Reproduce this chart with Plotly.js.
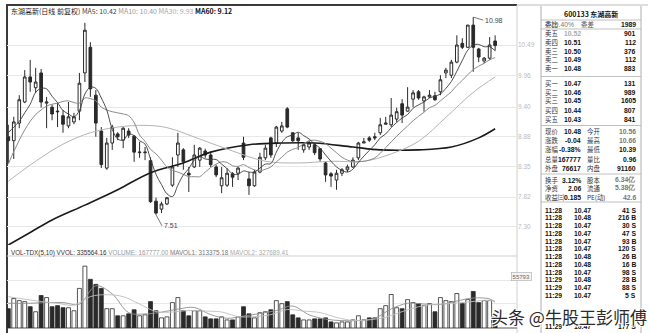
<!DOCTYPE html>
<html><head><meta charset="utf-8">
<script src="https://cdn.plot.ly/plotly-3.0.1.min.js"></script>
<style>html,body{margin:0;padding:0;background:#fff}#chart{width:650px;height:333px}</style>
</head><body><div id="chart"></div>
<script>
// ---------------- data ----------------
const open = [8.88,8.81,9.12,9.49,9.93,9.74,10.00,9.47,9.40,9.33,
9.25,9.07,9.14,9.33,10.00,10.45,9.61,8.98,8.33,8.77,
8.93,8.82,8.98,8.89,8.60,8.60,8.46,7.75,7.61,7.70,
8.03,8.56,8.65,8.24,8.35,8.47,8.63,8.56,8.35,8.02,
8.03,8.23,8.24,8.77,8.14,8.02,8.26,8.51,8.86,8.77,
8.98,9.37,8.95,8.86,8.65,8.70,8.74,8.67,8.42,8.23,
8.12,8.24,8.30,8.35,8.51,8.77,8.86,8.88,8.95,9.10,
9.09,9.19,9.46,9.33,9.54,9.67,9.51,9.58,9.60,9.67,
10.00,9.96,10.19,10.52,10.45,10.84,10.42,10.21,10.26,10.56];
const high = [9.09,9.23,9.61,10.05,10.23,10.09,10.07,9.58,9.44,9.47,
9.35,9.49,9.30,10.00,10.88,10.54,9.70,9.05,8.86,9.09,
8.96,9.05,9.03,8.91,8.79,8.70,8.52,7.81,7.74,7.82,
8.52,8.95,8.68,8.35,8.74,8.70,8.67,8.60,8.39,8.35,
8.33,8.26,8.35,8.88,8.26,8.30,8.60,8.74,8.88,9.07,
9.14,9.40,8.96,8.95,8.77,8.82,8.77,8.68,8.44,8.26,
8.30,8.33,8.39,8.52,8.79,8.86,8.89,8.95,9.21,9.23,
9.56,9.39,9.54,9.75,9.70,9.70,9.60,9.70,9.67,9.96,
10.09,10.23,10.66,10.61,10.84,10.98,10.44,10.28,10.63,10.66];
const low = [8.42,8.49,9.03,9.47,9.67,9.65,9.39,9.03,9.17,9.05,
8.95,9.03,9.10,9.17,9.84,9.58,8.88,8.33,8.30,8.65,
8.82,8.68,8.86,8.44,8.51,8.47,7.72,7.51,7.54,7.68,
8.00,8.35,8.30,7.91,8.33,8.35,8.51,8.35,8.17,7.89,
8.00,8.00,8.12,8.47,7.86,8.00,8.24,8.47,8.51,8.70,
8.95,9.03,8.79,8.65,8.60,8.65,8.56,8.44,8.09,8.00,
7.95,8.19,8.26,8.33,8.47,8.77,8.79,8.82,8.91,9.09,
9.05,9.14,9.12,9.32,9.40,9.53,9.32,9.56,9.51,9.61,
9.91,9.91,10.17,10.42,10.44,10.02,10.19,10.17,10.23,10.39];
const close = [8.81,9.14,9.53,9.93,9.84,9.84,9.49,9.49,9.28,9.32,
9.10,9.23,9.23,9.82,10.75,9.72,9.12,8.39,8.77,9.05,
8.88,9.03,8.91,8.61,8.61,8.61,7.74,7.54,7.70,7.81,
8.35,8.77,8.44,8.21,8.56,8.68,8.56,8.39,8.21,8.16,
8.24,8.17,8.33,8.52,8.02,8.26,8.52,8.68,8.56,9.05,
9.07,9.05,8.81,8.81,8.74,8.77,8.60,8.49,8.21,8.19,
8.24,8.30,8.35,8.47,8.77,8.79,8.82,8.86,9.09,9.12,
9.26,9.32,9.26,9.40,9.65,9.56,9.58,9.61,9.53,9.88,
10.05,10.19,10.49,10.45,10.84,10.45,10.28,10.26,10.49,10.48];
const ma5 = [8.95,9.05,9.15,9.30,9.45,9.66,9.73,9.72,9.59,9.48,
9.34,9.28,9.23,9.34,9.63,9.75,9.73,9.56,9.35,9.01,
8.84,8.82,8.93,8.90,8.81,8.75,8.49,8.22,8.04,7.88,
7.83,8.03,8.21,8.32,8.47,8.53,8.49,8.48,8.48,8.40,
8.32,8.23,8.22,8.28,8.26,8.26,8.33,8.40,8.41,8.61,
8.78,8.88,8.91,8.96,8.90,8.84,8.75,8.68,8.56,8.45,
8.35,8.29,8.26,8.31,8.43,8.54,8.64,8.74,8.86,8.93,
9.04,9.13,9.21,9.27,9.38,9.44,9.49,9.56,9.59,9.63,
9.73,9.85,10.03,10.22,10.40,10.49,10.50,10.46,10.46,10.39];
const ma10 = [8.40,8.62,8.82,9.00,9.15,9.27,9.35,9.42,9.45,9.47,
9.50,9.51,9.48,9.47,9.56,9.55,9.51,9.40,9.35,9.32,
9.30,9.28,9.25,9.13,8.91,8.80,8.66,8.58,8.47,8.35,
8.29,8.26,8.22,8.18,8.18,8.18,8.26,8.34,8.40,8.44,
8.43,8.37,8.36,8.39,8.34,8.30,8.28,8.31,8.35,8.44,
8.52,8.61,8.66,8.69,8.76,8.81,8.82,8.80,8.76,8.68,
8.60,8.52,8.47,8.44,8.44,8.45,8.47,8.51,8.59,8.69,
8.79,8.89,8.98,9.07,9.16,9.24,9.31,9.39,9.43,9.51,
9.59,9.67,9.78,9.87,9.97,10.06,10.12,10.17,10.23,10.27];
const ma30Day = [0,5,10,15,20,25,29,35,41,47,53,59,65,70,75,80,85,89];
const ma30 = [8.10,8.45,8.75,8.95,9.05,9.08,9.04,8.84,8.63,8.45,8.42,8.45,8.45,8.58,8.80,9.22,9.66,9.93];
const ma60Day = [0,4,8,14,20,26,32,37,44,50,56,63,68,75,81,86,89];
const ma60 = [6.98,7.20,7.42,7.68,7.95,8.25,8.42,8.61,8.74,8.77,8.77,8.70,8.65,8.65,8.70,8.86,9.02];
const volume = [234000,357000,332000,320000,258000,197000,394000,369000,258000,271000,
246000,246000,209000,480000,750000,590000,529000,480000,234000,234000,
148000,148000,172000,221000,148000,160000,320000,209000,123000,135000,
308000,369000,209000,148000,209000,209000,135000,111000,111000,135000,
98000,98000,135000,258000,172000,123000,185000,197000,221000,332000,
295000,320000,160000,123000,98000,98000,111000,111000,123000,74000,
62000,74000,74000,98000,148000,98000,123000,123000,234000,271000,
406000,246000,234000,344000,308000,295000,271000,295000,197000,369000,
332000,320000,418000,295000,344000,443000,308000,332000,332000,167777];
const mavol1Day = [0,4,7,10,13,16,19,22,25,28,31,34,37,40,43,46,49,52,55,58,61,64,67,70,73,76,79,82,85,88,89];
const mavol1 = [300000,300000,308000,308000,290000,512000,413000,187000,170000,192000,229000,249000,162000,118000,145000,175000,212000,266000,160000,108000,89000,91000,118000,231000,300000,290000,285000,327000,364000,352000,313375];
const mavol2Day = [0,5,9,12,15,18,21,24,27,30,33,36,39,42,45,48,51,54,57,60,63,66,69,72,75,78,81,84,87,89];
const mavol2 = [380000,330000,299000,277000,381000,404000,380000,290000,199000,194000,213000,205000,194000,139000,138000,162000,224000,205000,187000,128000,92000,99000,131000,198000,258000,287000,297000,314000,336000,327689];
const priceTicks = [7.30,7.82,8.35,8.88,9.40,9.96,10.49];
const priceTickText = ['7.30','7.82','8.35','8.88','9.40','9.96','10.49'];
const volTicks = [295000,578000];

const headTitle = '东湖高新(日线 前复权)';
const maNames = ['MA5','MA10','MA30','MA60'];
const maValues = ['10.42','10.40','9.93','9.12'];
const volHeadNames = ['VOL-TDX(5,10)','VVOL:','VOLUME:','MAVOL1:','MAVOL2:'];
const volHeadValues = ['','335564.16','167777.00','313375.18','327689.41'];
const maxLabel = '10.98', minLabel = '7.51';

const stockTitle = '600133 东湖高新';
const ratioRow = ['委比','29.40%','委差','1989'];
const bookLabels = ['卖五','卖四','卖三','卖二','卖一','买一','买二','买三','买四','买五'];
const bookPrices = ['10.52','10.51','10.50','10.49','10.48','10.47','10.46','10.45','10.44','10.43'];
const bookVols = ['901','112','376','112','883','131','989','1605','807','841'];
const quoteRows = [
  ['现价','10.48','今开','10.56'],['涨跌','-0.04','最高','10.66'],['涨幅','-0.38%','最低','10.39'],
  ['总量','167777','量比','0.96'],['外盘','76617','内盘','91160'],['换手','3.12%','股本','6.34亿'],
  ['净资','2.06','流通','5.38亿'],['收益㈢','0.185','PE(动)','42.6']];
const tickTimes = ['11:28','11:28','11:28','11:28','11:28','11:28','11:28','11:28','11:28','11:29','11:29','11:29','11:29'];
const tickPrices = ['10.47','10.48','10.47','10.47','10.47','10.47','10.48','10.48','10.47','10.48','10.47','10.47','10.47'];
const tickVols = ['41 S','216 B','30 S','47 S','93 B','120 S','26 B','16 B','98 S','28 B','88 S','5 S','177 S'];
const tickRowSlot = [0,1,2,3,4,5,6,7,8,9,10,11,15];
const watermark = '头条 @牛股王彭师傅';

// ---------------- helpers ----------------
const W = 650, H = 333;
const PX = x => x / W, PY = y => 1 - y / H;
const day = open.map((_, i) => i);
const CJK = 'Noto Sans CJK SC, DejaVu Sans, sans-serif';
const NUM = 'Liberation Sans, Arial, sans-serif';
function T(text, x, y, anchor, size, color, family, extra) {
  return Object.assign({text, x: PX(x), y: PY(y), xref: 'paper', yref: 'paper',
    xanchor: anchor, yanchor: 'middle', showarrow: false,
    font: {family: family || CJK, size: size || 7, color: color || '#111'}}, extra || {});
}

// ---------------- traces ----------------
const traces = [
  {type: 'candlestick', x: day, open, high, low, close, xaxis: 'x', yaxis: 'y',
   increasing: {line: {color: '#2a2a2a', width: 1}, fillcolor: '#ffffff'},
   decreasing: {line: {color: '#2a2a2a', width: 1}, fillcolor: '#2a2a2a'},
   whiskerwidth: 0, hoverinfo: 'skip'},
  {type: 'scatter', mode: 'lines', x: ma60Day, y: ma60, line: {color: '#1a1a1a', width: 1.6, shape: 'spline'}, hoverinfo: 'skip'},
  {type: 'scatter', mode: 'lines', x: ma30Day, y: ma30, line: {color: '#b4b4b4', width: 1, shape: 'spline'}, hoverinfo: 'skip'},
  {type: 'scatter', mode: 'lines', x: day, y: ma10, line: {color: '#8a8a8a', width: 1, shape: 'spline'}, hoverinfo: 'skip'},
  {type: 'scatter', mode: 'lines', x: day, y: ma5, line: {color: '#3a3a3a', width: 0.9, shape: 'spline'}, hoverinfo: 'skip'},
  {type: 'bar', x: day, y: volume, xaxis: 'x', yaxis: 'y2',
   marker: {color: close.map((c, i) => c >= open[i] ? '#ffffff' : '#2a2a2a'), line: {color: '#2a2a2a', width: 0.8}},
   hoverinfo: 'skip'},
  {type: 'scatter', mode: 'lines', x: mavol1Day, y: mavol1, yaxis: 'y2', line: {color: '#8f8f8f', width: 0.9, shape: 'spline'}, hoverinfo: 'skip'},
  {type: 'scatter', mode: 'lines', x: mavol2Day, y: mavol2, yaxis: 'y2', line: {color: '#bdbdbd', width: 0.9, shape: 'spline'}, hoverinfo: 'skip'}
];

// ---------------- annotations ----------------
const ann = [];
const maColors = ['#444', '#999', '#aaa', '#111'];
let head = '<span style="color:#222">' + headTitle + '</span>';
maNames.forEach((n, i) => {
  const s = n + ': ' + maValues[i];
  head += ' <span style="color:' + maColors[i] + '">' + (i === 3 ? '<b>' + s + '</b>' : s) + '</span>';
});
ann.push(T(head, 9, 11, 'left', 7, '#222'));
const vColors = ['#333', '#333', '#999', '#777', '#aaa'];
let vh = volHeadNames.map((n, i) => '<span style="color:' + vColors[i] + '">' + n + (volHeadValues[i] ? ' ' + volHeadValues[i] : '') + '</span>').join(' ');
ann.push(T(vh, 9, 253, 'left', 6.3, '#333', NUM));
ann.push({text: maxLabel, x: 85, y: 10.98, xref: 'x', yref: 'y', showarrow: true, arrowhead: 0, arrowwidth: 0.8,
  arrowcolor: '#555', ax: 10, ay: 3, xanchor: 'left', yanchor: 'middle', font: {family: NUM, size: 7, color: '#444'}});
ann.push({text: minLabel, x: 27, y: 7.51, xref: 'x', yref: 'y', showarrow: true, arrowhead: 0, arrowwidth: 0.8,
  arrowcolor: '#555', ax: 6, ay: 11, xanchor: 'left', yanchor: 'middle', font: {family: NUM, size: 7, color: '#444'}});
ann.push(T('55793', 521, 276, 'center', 6, '#666', NUM, {bordercolor: '#aaa', borderwidth: 0.6, borderpad: 1, bgcolor: '#f4f4f4'}));

// right panel
const LX = 543, MX = 583, TX = 585, RX = 638, LS = 6.4, NS = 6.8;
ann.push(T('<b>' + stockTitle + '</b>', 591, 14, 'center', 7, '#111'));
ann.push(T(ratioRow[0], LX, 24.5, 'left', LS, '#222'));
ann.push(T(ratioRow[1], 576, 24.5, 'right', NS, '#777', NUM));
ann.push(T(ratioRow[2], 579, 24.5, 'left', LS, '#555'));
ann.push(T('<b>' + ratioRow[3] + '</b>', RX, 24.5, 'right', NS, '#111', NUM));
const bookY = [33.5, 42.3, 51.1, 59.9, 68.7, 83, 92, 101, 110, 119];
bookLabels.forEach((lab, i) => {
  ann.push(T(lab, LX, bookY[i], 'left', LS, '#333'));
  ann.push(T('<b>' + bookPrices[i] + '</b>', MX, bookY[i], 'right', NS, i === 0 ? '#aaa' : '#111', NUM));
  ann.push(T('<b>' + bookVols[i] + '</b>', RX, bookY[i], 'right', NS, '#111', NUM));
});
const quoteY = [131.7, 140.8, 149.9, 159, 168.1, 180, 188.5, 197];
const q2Color = ['#777', '#777', '#111', '#111', '#111', '#777', '#777', '#777'];
quoteRows.forEach((r, i) => {
  ann.push(T(r[0], LX, quoteY[i], 'left', LS, '#333'));
  ann.push(T('<b>' + r[1] + '</b>', MX, quoteY[i], 'right', NS, '#111', NUM));
  ann.push(T(r[2], TX, quoteY[i], 'left', LS, '#333'));
  ann.push(T('<b>' + r[3] + '</b>', RX, quoteY[i], 'right', NS, q2Color[i], NUM));
});
tickTimes.forEach((t, i) => {
  const y = 210 + tickRowSlot[i] * 7.75;
  ann.push(T('<b>' + t + '</b>', LX, y, 'left', NS, '#111', NUM));
  ann.push(T('<b>' + tickPrices[i] + '</b>', 593, y, 'right', NS, '#111', NUM));
  ann.push(T('<b>' + tickVols[i] + '</b>', RX, y, 'right', NS, '#111', NUM));
});
ann.push(T(watermark, 649, 316, 'right', 17, '#2b2b2b', CJK,
  {font: {family: CJK, size: 17, color: '#2b2b2b', shadow: '1px 1px 0 #fff, -1px -1px 0 #fff, 1px -1px 0 #fff, -1px 1px 0 #fff, 0 0 2px #fff'}}));

// ---------------- shapes ----------------
function L(x0, y0, x1, y1, color, width) {
  return {type: 'line', xref: 'paper', yref: 'paper', x0: PX(x0), y0: PY(y0), x1: PX(x1), y1: PY(y1),
    line: {color, width}, layer: 'below'};
}
const shapes = [
  L(6, 5, 517, 5, '#3a3a3a', 2),
  L(517, 5, 648, 5, '#bbb', 1),
  L(7, 5, 7, 333, '#3a3a3a', 2),
  L(517, 5, 517, 333, '#cfcfcf', 1),
  L(7, 256, 517, 256, '#cfcfcf', 1.2),
  L(7, 328, 517, 328, '#555', 1.2),
  L(541, 6, 541, 333, '#9a9a9a', 0.8),
  L(641, 6, 641, 333, '#9a9a9a', 0.8),
  L(541, 20, 641, 20, '#b0b0b0', 0.8),
  L(541, 29, 641, 29, '#b0b0b0', 0.8),
  L(541, 76.5, 641, 76.5, '#b0b0b0', 0.8),
  L(541, 125.5, 641, 125.5, '#b0b0b0', 0.8),
  L(541, 174, 641, 174, '#b0b0b0', 0.8),
  L(541, 202, 641, 202, '#b0b0b0', 0.8)
];

const layout = {
  width: W, height: H, margin: {l: 0, r: 0, t: 0, b: 0},
  paper_bgcolor: '#ffffff', plot_bgcolor: '#ffffff', showlegend: false,
  bargap: 0.28, boxgap: 0.3,
  xaxis: {domain: [PX(7), PX(517)], range: [-0.24, 93], showgrid: false, zeroline: false,
    showticklabels: false, ticks: '', showline: false, rangeslider: {visible: false}, anchor: 'y2', fixedrange: true},
  yaxis: {domain: [PY(245), PY(8)], range: [6.98, 11.14], side: 'right', anchor: 'x',
    tickvals: priceTicks, ticktext: priceTickText, tickfont: {family: NUM, size: 6.5, color: '#bbb'},
    gridcolor: '#e8e8e8', gridwidth: 1, zeroline: false, showline: false, ticks: '', fixedrange: true},
  yaxis2: {domain: [PY(328), PY(256)], range: [0, 873000], side: 'right', anchor: 'x',
    tickvals: volTicks, showticklabels: false, gridcolor: '#e8e8e8', zeroline: false, showline: false, ticks: '', fixedrange: true},
  annotations: ann, shapes
};
Plotly.newPlot('chart', traces, layout, {displayModeBar: false, staticPlot: true});
</script></body></html>
